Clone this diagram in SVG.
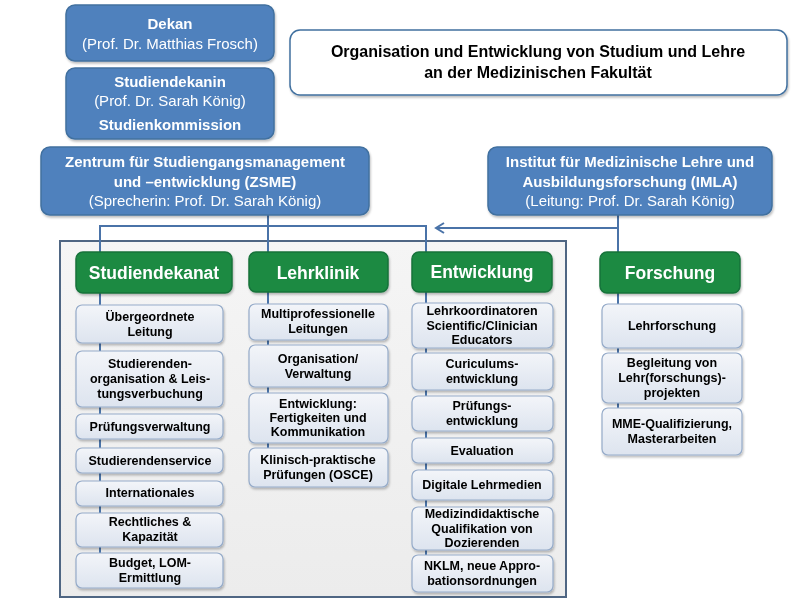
<svg xmlns="http://www.w3.org/2000/svg" width="800" height="600" viewBox="0 0 800 600">
<defs>
<linearGradient id="gSub" x1="0" y1="0" x2="0" y2="1"><stop offset="0" stop-color="#f3f5f9"/><stop offset="1" stop-color="#dde4ef"/></linearGradient>
<linearGradient id="gCont" x1="0" y1="0" x2="0" y2="1"><stop offset="0" stop-color="#f5f5f5"/><stop offset="1" stop-color="#ececec"/></linearGradient>
<filter id="sh" x="-10%" y="-10%" width="120%" height="130%"><feDropShadow dx="1" dy="2" stdDeviation="1.2" flood-color="#000" flood-opacity="0.25"/></filter>
<marker id="arr" viewBox="0 0 12 12" refX="10" refY="6" markerWidth="12" markerHeight="12" markerUnits="userSpaceOnUse" orient="auto"><path d="M2,1 L10,6 L2,11" fill="none" stroke="#4a73a8" stroke-width="2"/></marker>
</defs>
<style>
.blue{fill:#4f81bd;stroke:#41709f;stroke-width:1.5}
.green{fill:#1d8a43;stroke:#17733a;stroke-width:1.5}
.sub{fill:url(#gSub);stroke:#95abc9;stroke-width:1.2}
.t{font-family:"Liberation Sans",Arial,sans-serif;text-anchor:middle}
.w{fill:#fff;font-size:15px}
.b{font-weight:bold}
.h{fill:#fff;font-size:17.5px;font-weight:bold}
.s{fill:#000;font-size:12.5px;font-weight:bold}
.ti{fill:#000;font-size:16px;font-weight:bold}
.ln{fill:none;stroke:#4a73a8;stroke-width:2}
</style>
<rect width="800" height="600" fill="#fff"/>

<g id="container"><rect x="60" y="241" width="506" height="356" fill="url(#gCont)" stroke="#4f6683" stroke-width="2"/></g>

<g id="connectors">
<path class="ln" d="M268,215 V252"/>
<path class="ln" d="M100,252 V226 H426 V252"/>
<path class="ln" d="M618,215 V252"/>
<path class="ln" d="M618,228 H436" marker-end="url(#arr)"/>
<path class="ln" d="M100,293 V560"/>
<path class="ln" d="M268,292 V455"/>
<path class="ln" d="M426,292 V560"/>
<path class="ln" d="M618,293 V415"/>
</g>

<g id="dekan" filter="url(#sh)"><rect class="blue" x="66" y="5" width="208" height="56" rx="9"/>
<text class="t w b" x="170" y="29">Dekan</text><text class="t w" x="170" y="49">(Prof. Dr. Matthias Frosch)</text></g>

<g id="studiendekanin" filter="url(#sh)"><rect class="blue" x="66" y="68" width="208" height="71" rx="9"/>
<text class="t w b" x="170" y="87">Studiendekanin</text><text class="t w" x="170" y="106">(Prof. Dr. Sarah König)</text><text class="t w b" x="170" y="130">Studienkommission</text></g>

<g id="title" filter="url(#sh)"><rect x="290" y="30" width="497" height="65" rx="10" fill="#fff" stroke="#41709f" stroke-width="1.5"/>
<text class="t ti" x="538" y="57">Organisation und Entwicklung von Studium und Lehre</text><text class="t ti" x="538" y="78">an der Medizinischen Fakultät</text></g>

<g id="zsme" filter="url(#sh)"><rect class="blue" x="41" y="147" width="328" height="68" rx="9"/>
<text class="t w b" x="205" y="167">Zentrum für Studiengangsmanagement</text><text class="t w b" x="205" y="187">und –entwicklung (ZSME)</text><text class="t w" x="205" y="206">(Sprecherin: Prof. Dr. Sarah König)</text></g>

<g id="imla" filter="url(#sh)"><rect class="blue" x="488" y="147" width="284" height="68" rx="9"/>
<text class="t w b" x="630" y="167">Institut für Medizinische Lehre und</text><text class="t w b" x="630" y="187">Ausbildungsforschung (IMLA)</text><text class="t w" x="630" y="206">(Leitung: Prof. Dr. Sarah König)</text></g>

<g id="studiendekanat" filter="url(#sh)"><rect class="green" x="76" y="252" width="156" height="41" rx="7"/><text class="t h" x="154" y="279">Studiendekanat</text></g>
<g id="lehrklinik" filter="url(#sh)"><rect class="green" x="249" y="252" width="139" height="40" rx="7"/><text class="t h" x="318" y="279">Lehrklinik</text></g>
<g id="entwicklung" filter="url(#sh)"><rect class="green" x="412" y="252" width="140" height="40" rx="7"/><text class="t h" x="482" y="278">Entwicklung</text></g>
<g id="forschung" filter="url(#sh)"><rect class="green" x="600" y="252" width="140" height="41" rx="7"/><text class="t h" x="670" y="279">Forschung</text></g>

<g id="sd1" filter="url(#sh)"><rect class="sub" x="76" y="305" width="147" height="38" rx="6"/><text class="t s" x="150" y="321">Übergeordnete</text><text class="t s" x="150" y="336">Leitung</text></g>
<g id="sd2" filter="url(#sh)"><rect class="sub" x="76" y="351" width="147" height="56" rx="6"/><text class="t s" x="150" y="368">Studierenden-</text><text class="t s" x="150" y="383">organisation &amp; Leis-</text><text class="t s" x="150" y="398">tungsverbuchung</text></g>
<g id="sd3" filter="url(#sh)"><rect class="sub" x="76" y="414" width="147" height="25" rx="6"/><text class="t s" x="150" y="431">Prüfungsverwaltung</text></g>
<g id="sd4" filter="url(#sh)"><rect class="sub" x="76" y="448" width="147" height="25" rx="6"/><text class="t s" x="150" y="465">Studierendenservice</text></g>
<g id="sd5" filter="url(#sh)"><rect class="sub" x="76" y="481" width="147" height="25" rx="6"/><text class="t s" x="150" y="497">Internationales</text></g>
<g id="sd6" filter="url(#sh)"><rect class="sub" x="76" y="513" width="147" height="34" rx="6"/><text class="t s" x="150" y="526">Rechtliches &amp;</text><text class="t s" x="150" y="541">Kapazität</text></g>
<g id="sd7" filter="url(#sh)"><rect class="sub" x="76" y="553" width="147" height="35" rx="6"/><text class="t s" x="150" y="567">Budget, LOM-</text><text class="t s" x="150" y="582">Ermittlung</text></g>

<g id="lk1" filter="url(#sh)"><rect class="sub" x="249" y="304" width="139" height="36" rx="6"/><text class="t s" x="318" y="318">Multiprofessionelle</text><text class="t s" x="318" y="333">Leitungen</text></g>
<g id="lk2" filter="url(#sh)"><rect class="sub" x="249" y="345" width="139" height="42" rx="6"/><text class="t s" x="318" y="363">Organisation/</text><text class="t s" x="318" y="378">Verwaltung</text></g>
<g id="lk3" filter="url(#sh)"><rect class="sub" x="249" y="393" width="139" height="50" rx="6"/><text class="t s" x="318" y="408">Entwicklung:</text><text class="t s" x="318" y="422">Fertigkeiten und</text><text class="t s" x="318" y="436">Kommunikation</text></g>
<g id="lk4" filter="url(#sh)"><rect class="sub" x="249" y="448" width="139" height="39" rx="6"/><text class="t s" x="318" y="464">Klinisch-praktische</text><text class="t s" x="318" y="479">Prüfungen (OSCE)</text></g>

<g id="ew1" filter="url(#sh)"><rect class="sub" x="412" y="303" width="141" height="45" rx="6"/><text class="t s" x="482" y="315">Lehrkoordinatoren</text><text class="t s" x="482" y="330">Scientific/Clinician</text><text class="t s" x="482" y="344">Educators</text></g>
<g id="ew2" filter="url(#sh)"><rect class="sub" x="412" y="353" width="141" height="37" rx="6"/><text class="t s" x="482" y="368">Curiculums-</text><text class="t s" x="482" y="383">entwicklung</text></g>
<g id="ew3" filter="url(#sh)"><rect class="sub" x="412" y="396" width="141" height="35" rx="6"/><text class="t s" x="482" y="410">Prüfungs-</text><text class="t s" x="482" y="425">entwicklung</text></g>
<g id="ew4" filter="url(#sh)"><rect class="sub" x="412" y="438" width="141" height="25" rx="6"/><text class="t s" x="482" y="455">Evaluation</text></g>
<g id="ew5" filter="url(#sh)"><rect class="sub" x="412" y="470" width="141" height="30" rx="6"/><text class="t s" x="482" y="489">Digitale Lehrmedien</text></g>
<g id="ew6" filter="url(#sh)"><rect class="sub" x="412" y="507" width="141" height="43" rx="6"/><text class="t s" x="482" y="518">Medizindidaktische</text><text class="t s" x="482" y="533">Qualifikation von</text><text class="t s" x="482" y="547">Dozierenden</text></g>
<g id="ew7" filter="url(#sh)"><rect class="sub" x="412" y="555" width="141" height="37" rx="6"/><text class="t s" x="482" y="570">NKLM, neue Appro-</text><text class="t s" x="482" y="585">bationsordnungen</text></g>

<g id="fo1" filter="url(#sh)"><rect class="sub" x="602" y="304" width="140" height="44" rx="6"/><text class="t s" x="672" y="330">Lehrforschung</text></g>
<g id="fo2" filter="url(#sh)"><rect class="sub" x="602" y="353" width="140" height="50" rx="6"/><text class="t s" x="672" y="367">Begleitung von</text><text class="t s" x="672" y="382">Lehr(forschungs)-</text><text class="t s" x="672" y="397">projekten</text></g>
<g id="fo3" filter="url(#sh)"><rect class="sub" x="602" y="408" width="140" height="47" rx="6"/><text class="t s" x="672" y="428">MME-Qualifizierung,</text><text class="t s" x="672" y="443">Masterarbeiten</text></g>
</svg>
